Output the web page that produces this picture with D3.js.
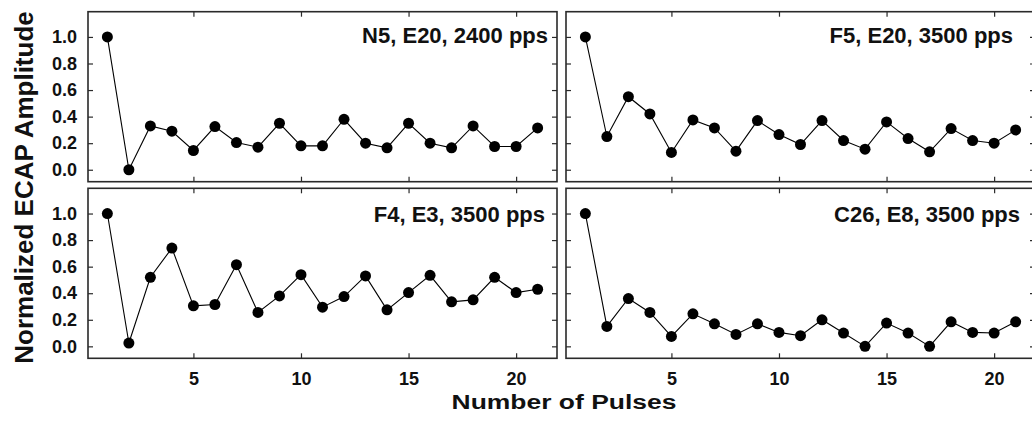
<!DOCTYPE html>
<html>
<head>
<meta charset="utf-8">
<script src="https://cdn.jsdelivr.net/npm/d3@7"></script>
<style>
  body { margin: 0; background: #fff; }
  svg { display: block; font-family: "Liberation Sans", Arial, sans-serif; font-weight: bold; }
</style>
</head>
<body>
<div id="chart"></div>
<script>
// data
const pulses = [1, 2, 3, 4, 5, 6, 7, 8, 9, 10, 11, 12, 13, 14, 15, 16, 17, 18, 19, 20, 21]
const n5 = [1.0, 0.0, 0.33, 0.29, 0.145, 0.325, 0.205, 0.17, 0.35, 0.18, 0.18, 0.38, 0.2, 0.165, 0.35, 0.2, 0.165, 0.33, 0.175, 0.175, 0.315]
const f5 = [1.0, 0.25, 0.55, 0.42, 0.13, 0.375, 0.315, 0.14, 0.37, 0.265, 0.19, 0.37, 0.22, 0.155, 0.36, 0.235, 0.135, 0.31, 0.22, 0.2, 0.3]
const f4 = [1.0, 0.025, 0.52, 0.74, 0.305, 0.315, 0.615, 0.255, 0.38, 0.54, 0.295, 0.375, 0.53, 0.275, 0.405, 0.535, 0.335, 0.35, 0.52, 0.405, 0.43]
const c26 = [1.0, 0.15, 0.36, 0.255, 0.075, 0.245, 0.17, 0.09, 0.17, 0.105, 0.08, 0.2, 0.1, 0.0, 0.175, 0.1, 0.0, 0.185, 0.105, 0.1, 0.185]
const labels = ["N5, E20, 2400 pps", "F5, E20, 3500 pps", "F4, E3, 3500 pps", "C26, E8, 3500 pps"]
const xTicks = [5, 10, 15, 20]
const yTicks = [0, 0.2, 0.4, 0.6, 0.8, 1.0]

const series = [n5, f5, f4, c26]

const width = 1032
const height = 433
const panelW = 469
const panelH = 170

// panel layout: left/top corner, label inset from the right edge, label baseline
const layout = [
  { x: 88, y: 11.7, inset: 9, base: 31.8, row: 0, col: 0 },
  { x: 566, y: 11.7, inset: 22, base: 31.8, row: 0, col: 1 },
  { x: 88, y: 188.3, inset: 12, base: 34, row: 1, col: 0 },
  { x: 566, y: 188.3, inset: 15, base: 33.6, row: 1, col: 1 }
]

const frameColor = "#2a2a2a"

const svg = d3.select("#chart")
  .append("svg")
  .attr("width", width)
  .attr("height", height)

const x = d3.scaleLinear().domain([0.1, 21.9]).range([0, panelW])
const y = d3.scaleLinear().domain([-0.09, 1.19]).range([panelH, 0])

const line = d3.line()
  .x((d, i) => x(pulses[i]))
  .y(d => y(d))

layout.forEach((p, k) => {
  const g = svg.append("g").attr("transform", `translate(${p.x},${p.y})`)

  // inward ticks on all four sides
  const bottom = g.append("g")
    .attr("transform", `translate(0,${panelH})`)
    .call(d3.axisBottom(x).tickValues(xTicks).tickSizeInner(-5).tickSizeOuter(0).tickPadding(14))
  const top = g.append("g")
    .call(d3.axisTop(x).tickValues(xTicks).tickSizeInner(-5).tickSizeOuter(0).tickFormat(""))
  const left = g.append("g")
    .call(d3.axisLeft(y).tickValues(yTicks).tickSizeInner(-5).tickSizeOuter(0).tickPadding(11).tickFormat(d3.format(".1f")))
  const right = g.append("g")
    .attr("transform", `translate(${panelW},0)`)
    .call(d3.axisRight(y).tickValues(yTicks).tickSizeInner(-5).tickSizeOuter(0).tickFormat(""))

  if (p.row === 0) bottom.selectAll("text").remove()
  if (p.col === 1) left.selectAll("text").remove()

  g.selectAll(".domain").remove()
  g.selectAll(".tick line").attr("stroke", frameColor).attr("stroke-width", 1.2)
  g.selectAll(".tick text")
    .attr("fill", "#111")
    .style("font-size", "18px")
    .style("font-family", "\"Liberation Sans\", Arial, sans-serif")
    .style("font-weight", "bold")

  g.append("rect")
    .attr("width", panelW)
    .attr("height", panelH)
    .attr("fill", "none")
    .attr("stroke", frameColor)
    .attr("stroke-width", 1.6)

  g.append("path")
    .datum(series[k])
    .attr("d", line)
    .attr("fill", "none")
    .attr("stroke", "#000")
    .attr("stroke-width", 1.1)

  g.selectAll("circle")
    .data(series[k])
    .enter()
      .append("circle")
      .attr("cx", (d, i) => x(pulses[i]))
      .attr("cy", d => y(d))
      .attr("r", 5.5)
      .attr("fill", "#000")

  g.append("text")
    .attr("x", panelW - p.inset)
    .attr("y", p.base)
    .attr("text-anchor", "end")
    .attr("fill", "#111")
    .style("font-size", "22px")
    .text(labels[k])
})

svg.append("text")
  .attr("transform", "translate(33,187.5) rotate(-90)")
  .attr("text-anchor", "middle")
  .attr("fill", "#111")
  .style("font-size", "26px")
  .text("Normalized ECAP Amplitude")

svg.append("text")
  .attr("transform", "translate(564,409) scale(1.26,1)")
  .attr("text-anchor", "middle")
  .attr("fill", "#111")
  .style("font-size", "21px")
  .text("Number of Pulses")
</script>
</body>
</html>
